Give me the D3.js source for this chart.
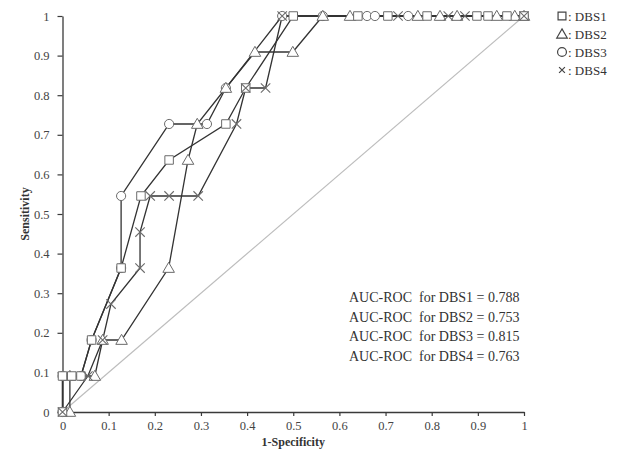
<!DOCTYPE html>
<html>
<head>
<meta charset="utf-8">
<script src="https://cdn.jsdelivr.net/npm/d3@7"></script>
<style>
  html, body { margin: 0; padding: 0; background: #fff; }
  svg { display: block; }
  text { font-family: "Liberation Serif", "Times New Roman", serif; }
</style>
</head>
<body>
<svg id="chart" width="626" height="459"></svg>
<script>
// ROC curves for four DBS scores: [1-specificity, sensitivity]
const dbs1 = [[0,0],[0,0.0909],[0.02,0.0909],[0.04,0.0909],[0.063,0.1818],[0.127,0.3636],[0.17,0.5455],[0.231,0.6364],[0.354,0.7273],[0.397,0.8182],[0.5,1],[0.64,1],[0.705,1],[0.79,1],[0.898,1],[0.922,1],[0.963,1],[1,1]];
const dbs2 = [[0.016,0],[0.016,0.0909],[0.07,0.0909],[0.087,0.1818],[0.128,0.1818],[0.23,0.3636],[0.272,0.6364],[0.292,0.7273],[0.354,0.8182],[0.417,0.9091],[0.499,0.9091],[0.564,1],[0.623,1],[0.77,1],[0.818,1],[0.855,1],[0.941,1],[0.98,1],[1,1]];
const dbs3 = [[0,0],[0,0.0909],[0.04,0.0909],[0.063,0.1818],[0.127,0.3636],[0.127,0.5455],[0.231,0.7273],[0.313,0.7273],[0.354,0.8182],[0.476,1],[0.564,1],[0.66,1],[0.677,1],[0.749,1],[1,1]];
const dbs4 = [[0,0],[0.055,0.0909],[0.087,0.1818],[0.105,0.2727],[0.168,0.3636],[0.168,0.4545],[0.19,0.5455],[0.231,0.5455],[0.294,0.5455],[0.377,0.7273],[0.397,0.8182],[0.44,0.8182],[0.476,1],[0.727,1],[0.836,1],[0.872,1],[1,1]];

const seriesNames = ["DBS1", "DBS2", "DBS3", "DBS4"];
const aucValues = [0.788, 0.753, 0.815, 0.763];
const xTicks = [0, 0.1, 0.2, 0.3, 0.4, 0.5, 0.6, 0.7, 0.8, 0.9, 1];
const yTicks = [0, 0.1, 0.2, 0.3, 0.4, 0.5, 0.6, 0.7, 0.8, 0.9, 1];
const xTitle = "1-Specificity";
const yTitle = "Sensitivity";

const svg = d3.select("#chart");
const x = d3.scaleLinear().domain([0, 1]).range([62.5, 524]);
const y = d3.scaleLinear().domain([0, 1]).range([412, 16]);
const fmt = d => (d === 0 ? "0" : d === 1 ? "1" : d.toFixed(1));

// reference diagonal
svg.append("line")
  .attr("x1", x(0)).attr("y1", y(0)).attr("x2", x(1)).attr("y2", y(1))
  .attr("stroke", "#bdbdbd").attr("stroke-width", 1.2);

// axes
const gx = svg.append("g").attr("transform", `translate(0,${y(0)})`)
  .call(d3.axisBottom(x).tickValues(xTicks).tickFormat(fmt).tickSize(4).tickSizeOuter(0).tickPadding(5));
const gy = svg.append("g").attr("transform", `translate(${x(0)},0)`)
  .call(d3.axisLeft(y).tickValues(yTicks).tickFormat(fmt).tickSize(5).tickSizeOuter(0).tickPadding(8));
[gx, gy].forEach(g => {
  g.select(".domain").attr("stroke", "#3a3a3a").attr("stroke-width", 1.3);
  g.selectAll(".tick line").attr("stroke", "#3a3a3a").attr("stroke-width", 1.2);
  g.selectAll(".tick text").attr("fill", "#444").style("font-size", "12.5px")
    .style("font-family", '"Liberation Serif", serif');
});

// axis titles
svg.append("text").attr("x", (x(0) + x(1)) / 2).attr("y", 446)
  .attr("text-anchor", "middle").attr("font-weight", "bold").attr("font-size", 12).attr("fill", "#333")
  .text(xTitle);
svg.append("text").attr("transform", `translate(29,${(y(0) + y(1)) / 2}) rotate(-90)`)
  .attr("text-anchor", "middle").attr("font-weight", "bold").attr("font-size", 12).attr("fill", "#333")
  .text(yTitle);

// series
const allSeries = [dbs1, dbs2, dbs3, dbs4];
const symbols = [d3.symbolSquare, d3.symbolTriangle, d3.symbolCircle, d3.symbolX];
const symSize = [72, 58, 66, 60];

const line = d3.line().x(d => x(d[0])).y(d => y(d[1]));
allSeries.forEach(s => {
  svg.append("path").datum(s).attr("d", line)
    .attr("fill", "none").attr("stroke", "#333").attr("stroke-width", 1.3);
});

// markers: circles first, then triangles, squares and crosses on top
[2, 1, 0, 3].forEach(i => {
  const s = allSeries[i];
  const sym = d3.symbol().type(symbols[i]).size(symSize[i]);
  svg.append("g").selectAll("path").data(s).join("path")
    .attr("transform", d => `translate(${x(d[0])},${y(d[1]) + (i === 1 ? 1 : 0)})`)
    .attr("d", sym)
    .attr("fill", i === 3 ? "none" : "#fff")
    .attr("stroke", "#6b6b6b")
    .attr("stroke-width", i === 3 ? 1.1 : 1);
});

// legend
const legend = svg.append("g");
const legSize = [62, 48, 62, 24];
seriesNames.forEach((name, i) => {
  const ly = 16 + i * 18;
  legend.append("path")
    .attr("transform", `translate(562,${ly + (i === 1 ? 1 : 0)})`)
    .attr("d", d3.symbol().type(symbols[i]).size(legSize[i])())
    .attr("fill", "#fff").attr("stroke", "#444").attr("stroke-width", 1.2);
  legend.append("text").attr("x", 568).attr("y", ly + 4.5)
    .attr("font-size", 13).attr("fill", "#333").text(": " + name);
});

// AUC annotations
const ann = svg.append("g");
seriesNames.forEach((name, i) => {
  ann.append("text").attr("x", 349).attr("y", 302 + i * 19.6)
    .attr("font-size", 14).attr("fill", "#333").style("white-space", "pre")
    .text(`AUC-ROC  for ${name} = ${aucValues[i].toFixed(3)}`);
});
</script>
</body>
</html>
